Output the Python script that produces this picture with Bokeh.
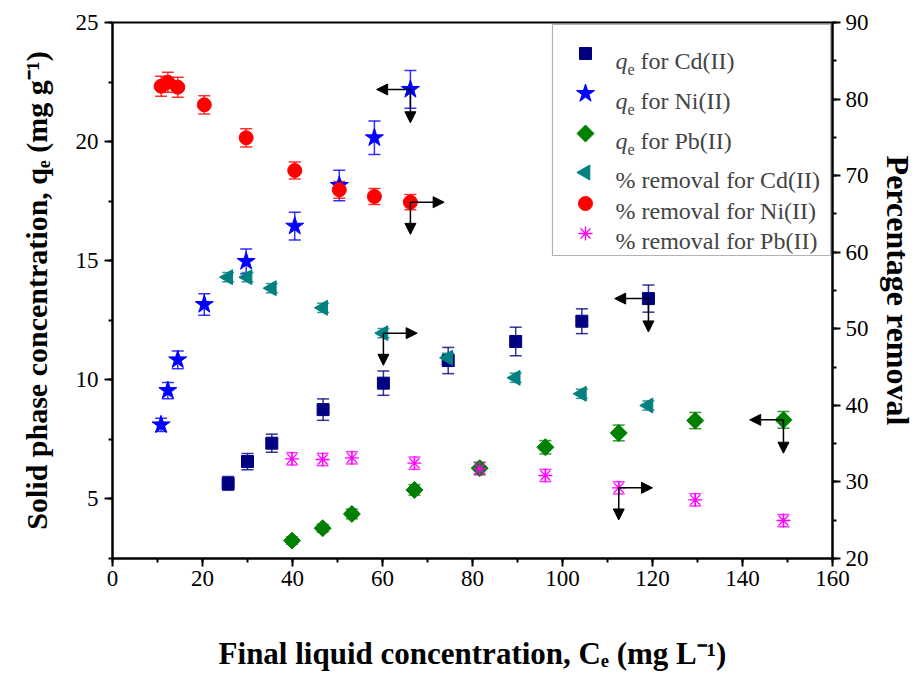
import numpy as np
from bokeh.plotting import figure
from bokeh.models import (Label, Arrow, NormalHead, Whisker, TeeHead, ColumnDataSource,
                          Range1d, LinearAxis, SingleIntervalTicker, BoxAnnotation)
from bokeh.embed import file_html
from bokeh.resources import INLINE

# ---------------- data ----------------
cd_x = [25.7, 30.0, 35.4, 46.8, 60.2, 74.6, 89.6, 104.3, 119.1]
ni_x = [10.8, 12.3, 14.5, 20.4, 29.7, 40.5, 50.4, 58.2, 66.2]
pb_x = [39.9, 46.7, 53.2, 67.1, 81.6, 96.2, 112.5, 129.5, 149.1]

cd_qe = [5.65, 6.57, 7.34, 8.75, 9.86, 10.81, 11.61, 12.46, 13.41]
ni_qe = [8.11, 9.55, 10.84, 13.16, 14.97, 16.45, 18.16, 20.16, 22.19]
pb_qe = [3.25, 3.77, 4.37, 5.38, 6.29, 7.17, 7.77, 8.29, 8.32]

cd_rem = [56.74, 56.74, 55.3, 52.74, 49.43, 46.21, 43.6, 41.51, 39.98]
ni_rem = [81.68, 82.2, 81.55, 79.25, 74.94, 70.67, 68.15, 67.28, 66.53]
pb_rem = [33.02, 32.93, 33.15, 32.45, 31.71, 30.84, 29.23, 27.66, 24.96]

cd_qe_err = [0.29, 0.34, 0.38, 0.45, 0.51, 0.55, 0.60, 0.52, 0.57]
ni_qe_err = [0.28, 0.34, 0.37, 0.45, 0.52, 0.58, 0.64, 0.70, 0.79]
pb_qe_err = [0.15, 0.17, 0.20, 0.22, 0.25, 0.28, 0.33, 0.34, 0.35]
cd_rem_err = [0.6, 0.6, 0.6, 0.6, 0.6, 0.6, 0.6, 0.6, 0.6]
ni_rem_err = [1.3, 1.3, 1.3, 1.2, 1.2, 1.1, 1.1, 1.05, 1.0]
pb_rem_err = [0.8, 0.8, 0.8, 0.8, 0.8, 0.8, 0.8, 0.8, 0.8]

x_ticks_interval = 20
left_ticks_interval = 5
right_ticks_interval = 10

x_title = "Final liquid concentration, C\u2091 (mg L\u207b\u00b9)"
y_title = "Solid phase concentration, q\u2091 (mg g\u207b\u00b9)"
r_title = "Percentage removal"

legend_labels = ["for Cd(II)", "for Ni(II)", "for Pb(II)",
                 "% removal for Cd(II)", "% removal for Ni(II)", "% removal for Pb(II)"]

# ---------------- layout constants ----------------
W, H = 918, 675
FL, FR, FT, FB = 112, 832, 22, 558
X0, X1 = 0, 160
Y0, Y1 = 2.5, 25
R0, R1 = 20, 90
FONT = "Liberation Serif"

def sx(px):
    return X0 + (px - FL) / (FR - FL) * (X1 - X0)

def sy(py):
    return Y0 + (FB - py) / (FB - FT) * (Y1 - Y0)

p = figure(width=W, height=H, x_range=Range1d(X0, X1), y_range=Range1d(Y0, Y1),
           output_backend="svg", toolbar_location=None,
           min_border_left=FL, min_border_right=W - FR,
           min_border_top=FT, min_border_bottom=H - FB)
p.extra_y_ranges = {"pct": Range1d(R0, R1)}
p.xgrid.visible = False
p.ygrid.visible = False
p.outline_line_color = "black"
p.outline_line_width = 2
p.background_fill_color = "white"
p.border_fill_color = "white"

def style_axis(ax, title, standoff, size):
    ax.axis_line_width = 2
    ax.axis_line_color = "black"
    ax.major_tick_line_width = 2
    ax.minor_tick_line_width = 2
    ax.major_tick_out = 8
    ax.major_tick_in = 0
    ax.minor_tick_out = 4
    ax.minor_tick_in = 0
    ax.major_label_text_font = FONT
    ax.major_label_text_font_size = "23px"
    ax.major_label_text_color = "black"
    ax.axis_label = title
    ax.axis_label_text_font = FONT
    ax.axis_label_text_font_style = "bold"
    ax.axis_label_text_font_size = f"{size}px"
    ax.axis_label_text_color = "black"
    ax.axis_label_standoff = standoff

p.xaxis.ticker = SingleIntervalTicker(interval=x_ticks_interval, num_minor_ticks=2)
p.yaxis.ticker = SingleIntervalTicker(interval=left_ticks_interval, num_minor_ticks=2)
style_axis(p.xaxis[0], x_title, 47, 31)
style_axis(p.yaxis[0], y_title, 20, 30)
p.xaxis.major_label_standoff = 4
p.yaxis.major_label_standoff = 6

right = LinearAxis(y_range_name="pct",
                   ticker=SingleIntervalTicker(interval=right_ticks_interval, num_minor_ticks=2))
style_axis(right, r_title, 8, 32)
right.major_label_standoff = 5
p.add_layout(right, "right")

# ---------------- error bars ----------------
def add_err(x, y, err, color, rng="default"):
    y = np.array(y); err = np.array(err)
    src = ColumnDataSource(dict(base=x, lower=y - err, upper=y + err))
    w = Whisker(source=src, base="base", lower="lower", upper="upper",
                line_color=color, line_width=1.5, line_alpha=0.8,
                upper_head=TeeHead(size=12, line_color=color, line_width=1.5, line_alpha=0.8),
                lower_head=TeeHead(size=12, line_color=color, line_width=1.5, line_alpha=0.8),
                y_range_name=rng)
    p.add_layout(w)

add_err(cd_x, cd_qe, cd_qe_err, "#000080")
add_err(ni_x, ni_qe, ni_qe_err, "#0000FF")
add_err(pb_x, pb_qe, pb_qe_err, "#008000")
add_err(cd_x, cd_rem, cd_rem_err, "#008080", "pct")
add_err(ni_x, ni_rem, ni_rem_err, "#FF0000", "pct")
add_err(pb_x, pb_rem, pb_rem_err, "#FF00FF", "pct")

# ---------------- markers ----------------
styles = [
    dict(marker="square", size=12, color="#000080"),
    dict(marker="star", size=19, color="#0000FF"),
    dict(marker="square", size=12, color="#008000", angle=np.pi / 4),
    dict(marker="triangle", size=15, color="#008080", angle=np.pi / 2),
    dict(marker="circle", size=14, color="#FF0000"),
    dict(marker="asterisk", size=14, color="#FF00FF", line_width=1.3),
]

p.scatter(cd_x, cd_qe, **styles[0])
p.scatter(ni_x, ni_qe, **styles[1])
p.scatter(pb_x, pb_qe, **styles[2])
p.scatter(cd_x, cd_rem, y_range_name="pct", **styles[3])
p.scatter(ni_x, ni_rem, y_range_name="pct", **styles[4])
p.scatter(pb_x, pb_rem, y_range_name="pct", **styles[5])

# ---------------- axis-indicating arrows ----------------
HX = 7.5      # horizontal arrow length (x units)
DL = 1.4      # downward arrow length (left axis units)
DR = 4.2      # downward arrow length (right axis units)

def arrows(x, y, direction, rng):
    down = DL if rng == "default" else DR
    dx = -HX if direction == "left" else HX
    for (xe, ye) in [(x + dx, y), (x, y - down)]:
        p.add_layout(Arrow(x_start=x, y_start=y, x_end=xe, y_end=ye,
                           line_color="black", line_width=1.5,
                           end=NormalHead(size=11, fill_color="black", line_color="black"),
                           y_range_name=rng))

arrows(ni_x[-1], ni_qe[-1], "left", "default")
arrows(ni_x[-1], ni_rem[-1], "right", "pct")
arrows(cd_x[4], cd_rem[4], "right", "pct")
arrows(cd_x[-1], cd_qe[-1], "left", "default")
arrows(pb_x[-1], pb_qe[-1], "left", "default")
arrows(pb_x[6], pb_rem[6], "right", "pct")

# ---------------- legend (manual, for rich text) ----------------
box = BoxAnnotation(left=sx(552), right=sx(830), top=sy(24), bottom=sy(255),
                    fill_color="white", fill_alpha=1.0, line_color="black",
                    line_width=1.2, level="underlay")
p.add_layout(box)

rows = [53, 93, 133, 172, 203, 233]
for i, (ry, lab) in enumerate(zip(rows, legend_labels)):
    p.scatter([sx(585)], [sy(ry)], **styles[i])
    base = ry + 7
    if i < 3:
        p.add_layout(Label(x=sx(615), y=sy(base), text="q", text_font=FONT,
                           text_font_style="italic", text_font_size="24px",
                           text_baseline="alphabetic", text_align="left"))
        p.add_layout(Label(x=sx(627), y=sy(base + 9), text="e", text_font=FONT,
                           text_font_size="16px",
                           text_baseline="alphabetic", text_align="left"))
        p.add_layout(Label(x=sx(640), y=sy(base), text=lab, text_font=FONT,
                           text_font_size="24px",
                           text_baseline="alphabetic", text_align="left"))
    else:
        p.add_layout(Label(x=sx(615), y=sy(base), text=lab, text_font=FONT,
                           text_font_size="24px",
                           text_baseline="alphabetic", text_align="left"))

open("out.html", "w").write(file_html(p, INLINE))
